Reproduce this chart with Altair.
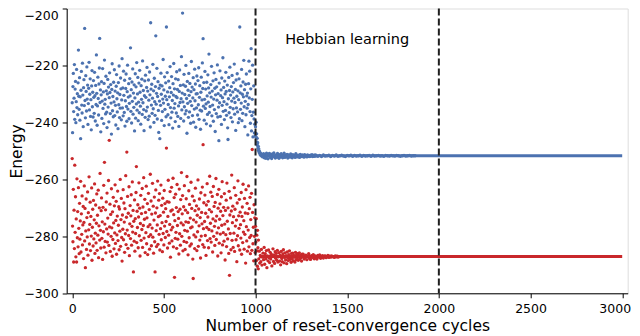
import altair as alt
import pandas as pd

# ---------------- data ----------------
# Before Hebbian learning: one value every 2 cycles, cycles 0..998
blue_noisy = [
 -233.1,-243.6,-227.4,-222.8,-236.2,-231.5,-219.7,-238.9,-228.3,-225.6,-240.1,-232.7,-221.4,-234.8,-229.9,-237.3,-226.1,-214.6,-230.8,-235.4,
 -224.3,-239.2,-231.0,-245.7,-228.7,-222.1,-233.9,-236.7,-219.2,-230.4,-241.5,-227.8,-225.0,-234.1,-207.0,-232.3,-238.4,-223.6,-229.1,-236.0,
 -220.5,-231.8,-226.9,-240.7,-233.4,-228.0,-218.9,-235.6,-230.1,-224.7,-237.9,-232.0,-242.6,-227.2,-221.8,-234.5,-229.4,-238.1,-225.3,-231.2,
 -236.8,-222.4,-230.6,-239.5,-227.0,-233.7,-216.3,-229.8,-241.0,-234.2,-224.1,-231.6,-237.4,-226.5,-220.9,-210.5,-233.0,-228.6,-243.3,-230.3,
 -225.7,-238.6,-232.5,-221.1,-235.1,-229.3,-240.4,-226.3,-218.1,-233.6,-231.9,-237.0,-223.8,-228.9,-236.4,-241.8,-230.0,-224.9,-234.6,-227.6,
 -239.8,-231.3,-222.6,-229.5,-236.9,-226.7,-233.2,-244.1,-228.4,-219.4,-235.9,-230.9,-238.0,-225.9,-232.8,-221.5,-237.6,-229.0,-234.0,-240.9,
 -227.3,-223.2,-231.7,-236.3,-229.6,-242.2,-226.0,-233.8,-220.2,-238.3,-230.2,-235.0,-224.4,-228.2,-239.1,-232.1,-217.6,-234.9,-227.9,-237.7,
 -222.0,-230.5,-236.5,-225.2,-241.3,-232.4,-228.1,-223.0,-234.4,-239.6,-229.2,-219.9,-235.3,-231.1,-226.4,-238.7,-233.3,-224.6,-230.7,-213.8,
 -236.1,-228.5,-240.2,-225.8,-232.6,-221.2,-237.1,-229.7,-234.7,-226.8,-243.0,-231.4,-222.9,-238.5,-227.5,-233.5,-219.0,-235.7,-230.0,-224.2,
 -239.4,-232.9,-226.2,-236.6,-221.7,-229.4,-234.3,-240.6,-227.1,-231.9,-224.8,-237.2,-218.4,-233.1,-228.8,-235.5,-242.9,-230.6,-225.4,-238.2,
 -223.4,-231.2,-236.0,-227.7,-220.7,-234.6,-229.0,-239.0,-225.1,-232.2,-237.8,-222.3,-230.3,-241.6,-205.0,-228.3,-233.9,-226.6,-236.8,-231.5,
 -219.6,-235.2,-228.9,-240.0,-224.5,-232.7,-237.5,-227.4,-209.6,-233.6,-229.8,-221.0,-238.8,-230.9,-225.7,-235.8,-243.5,-228.0,-232.5,-245.7,
 -226.9,-234.0,-222.7,-230.1,-239.3,-227.2,-236.2,-231.8,-217.9,-233.2,-228.6,-241.1,-224.0,-235.4,-230.8,-226.1,-238.0,-206.5,-232.0,-222.5,
 -229.3,-237.3,-233.7,-225.5,-240.8,-231.0,-227.8,-220.4,-234.8,-238.4,-229.5,-223.9,-236.4,-232.3,-242.0,-226.4,-230.4,-219.3,-235.0,-228.2,
 -233.4,-239.7,-224.7,-230.9,-236.7,-222.2,-231.3,-228.4,-237.9,-225.0,-234.2,-241.4,-229.1,-221.6,-233.0,-227.0,-238.6,-231.7,-216.9,-235.6,
 -229.7,-201.6,-232.8,-226.8,-239.5,-223.1,-234.5,-230.2,-237.0,-227.3,-220.0,-235.9,-231.6,-243.8,-225.6,-233.3,-228.7,-238.2,-222.8,-230.5,
 -236.3,-226.3,-232.6,-240.3,-229.2,-218.6,-234.1,-227.6,-237.6,-231.4,-224.3,-239.9,-228.5,-235.3,-221.3,-232.4,-226.5,-241.7,-230.0,-234.9,
 -223.7,-229.9,-237.4,-225.3,-233.8,-220.8,-238.9,-231.2,-227.1,-235.7,-242.4,-229.4,-224.1,-236.0,-232.1,-219.1,-228.1,-210.6,-234.3,-226.0,
 -239.2,-231.9,-222.1,-235.1,-228.3,-233.5,-240.5,-225.9,-230.7,-237.2,-223.3,-232.9,-227.9,-216.0,-236.5,-229.6,-234.4,-241.2,-226.7,-231.1,
 -220.3,-237.7,-229.0,-233.9,-225.4,-239.6,-231.8,-222.6,-235.5,-228.0,-243.2,-230.3,-224.9,-236.9,-227.5,-232.2,-219.8,-238.1,-229.9,-234.6,
 -246.4,-226.2,-233.1,-221.9,-237.9,-230.6,-228.6,-240.7,-224.4,-234.0,-231.3,-217.3,-236.1,-227.7,-232.7,-239.0,-225.5,-230.0,-235.8,-222.4,
 -229.1,-237.5,-233.6,-226.9,-241.9,-246.0,-231.7,-224.2,-236.6,-228.8,-220.6,-234.7,-230.4,-238.3,-227.4,-232.5,-223.5,-239.8,-229.3,-235.2,
 -226.0,-231.5,-219.5,-237.1,-233.0,-228.4,-242.8,-225.1,-234.9,-230.8,-222.9,-236.3,-228.9,-240.1,-232.0,-224.7,-238.7,-206.5,-229.6,-235.4,
 -227.2,-233.2,-221.4,-239.4,-230.1,-236.8,-225.8,-231.0,-218.2,-234.5,-228.5,-241.5,-232.6,-226.6,-237.3,-223.0,-230.7,-235.0,-229.7,-244.4,
 -233.7,-226.4,-218.5,-231.4,-222.0,-236.2,-240.3,-228.2,-214.1,-243.0,-237.6,-231.9,-219.9,-245.1,-236.4,-227.2,-238.8,-243.7,-240.6,-244.8,
]

red_noisy = [
 -252.7,-276.4,-281.9,-263.5,-289.0,-270.8,-284.3,-255.0,-278.6,-266.1,-287.2,-273.9,-289.0,-259.8,-280.5,-271.3,-283.7,-262.9,-277.2,-286.1,
 -268.4,-281.0,-274.6,-260.7,-285.5,-272.1,-279.3,-265.8,-283.0,-276.0,-269.5,-287.8,-275.1,-262.3,-281.6,-270.2,-291.0,-278.1,-266.9,-284.6,
 -273.4,-280.2,-264.4,-286.6,-271.7,-277.7,-259.1,-282.7,-275.8,-268.0,-285.0,-273.0,-279.9,-263.0,-288.4,-276.8,-270.5,-283.4,-267.4,-280.9,
 -274.2,-261.6,-286.0,-278.9,-269.0,-282.3,-275.4,-265.1,-284.9,-272.6,-279.6,-263.8,-287.5,-276.3,-270.0,-281.3,-257.9,-277.9,-284.1,-271.0,
 -266.5,-280.7,-274.9,-288.1,-269.8,-278.4,-262.1,-283.8,-254.0,-275.7,-281.8,-270.7,-285.8,-267.9,-277.4,-264.8,-282.0,-273.6,-279.2,-260.4,
 -283.2,-246.3,-276.7,-268.7,-285.3,-272.3,-280.0,-263.3,-277.0,-287.0,-271.4,-281.1,-266.3,-275.3,-284.4,-269.3,-278.8,-261.9,-282.5,-274.4,
 -267.7,-286.3,-279.5,-272.9,-264.1,-281.5,-276.1,-269.6,-284.7,-270.4,-278.2,-260.0,-283.5,-274.1,-266.7,-280.4,-288.7,-272.5,-277.5,-263.6,
 -281.2,-268.3,-275.0,-285.6,-270.3,-279.1,-258.7,-282.9,-273.3,-250.4,-277.8,-266.0,-284.2,-271.9,-279.7,-262.6,-286.8,-275.6,-269.2,-280.8,
 -272.8,-265.4,-283.1,-276.5,-260.9,-278.5,-270.9,-292.5,-274.7,-281.7,-267.2,-285.2,-273.8,-279.0,-264.6,-255.5,-282.2,-271.2,-276.9,-268.9,
 -284.0,-273.2,-261.2,-279.8,-270.1,-286.9,-275.5,-265.6,-281.4,-272.0,-277.6,-263.2,-283.9,-269.7,-276.2,-259.4,-280.6,-274.0,-267.0,-285.7,
 -271.6,-278.7,-262.4,-282.6,-273.5,-268.5,-286.4,-276.6,-264.9,-280.1,-270.6,-284.5,-275.9,-258.2,-279.4,-267.6,-283.3,-272.2,-277.1,-261.4,
 -280.3,-269.4,-285.9,-274.3,-266.2,-281.9,-292.5,-271.8,-263.7,-278.0,-283.6,-270.0,-276.0,-260.6,-282.8,-273.1,-267.3,-279.3,-265.0,-284.8,
 -272.7,-277.3,-262.0,-281.2,-269.1,-275.2,-285.4,-266.6,-279.0,-271.5,-283.0,-263.9,-276.4,-268.5,-280.4,-270.3,-274.8,-249.0,-278.3,-267.8,
 -284.1,-273.0,-260.3,-279.6,-268.0,-282.4,-275.8,-264.3,-287.3,-271.1,-277.7,-262.8,-281.6,-270.7,-276.8,-259.6,-283.7,-272.4,-266.4,-294.4,
 -274.5,-280.7,-265.2,-278.6,-269.9,-284.2,-261.8,-276.2,-281.0,-271.3,-273.7,-286.2,-263.4,-279.1,-270.5,-283.1,-267.1,-275.3,-257.6,-280.0,
 -272.1,-265.7,-285.1,-276.0,-269.6,-281.8,-262.2,-277.9,-284.6,-270.8,-274.9,-266.8,-282.1,-259.0,-278.2,-271.7,-286.5,-275.1,-264.0,-280.5,
 -268.8,-283.4,-273.6,-277.0,-261.0,-282.7,-270.2,-276.7,-265.9,-288.0,-294.8,-274.2,-279.5,-267.5,-284.3,-271.0,-263.1,-280.2,-275.0,-269.3,
 -285.0,-272.6,-278.4,-260.2,-283.5,-270.4,-276.3,-266.9,-281.3,-273.4,-287.6,-264.7,-279.9,-271.6,-275.6,-262.7,-282.9,-247.8,-277.3,-268.2,
 -283.8,-274.8,-265.5,-279.7,-271.9,-286.7,-269.0,-276.9,-261.5,-281.5,-273.2,-267.7,-284.0,-277.6,-270.6,-258.9,-280.8,-275.4,-264.5,-282.0,
 -271.4,-278.1,-266.0,-285.5,-273.9,-262.5,-280.0,-269.5,-276.5,-283.2,-268.1,-274.6,-259.7,-281.1,-272.9,-278.8,-265.3,-286.9,-270.1,-277.0,
 -263.5,-282.4,-274.0,-268.6,-279.2,-271.2,-285.8,-266.1,-276.1,-260.8,-283.0,-272.7,-278.7,-269.8,-281.7,-265.0,-275.7,-288.3,-270.9,-279.4,
 -267.3,-283.6,-261.3,-274.7,-280.9,-270.0,-277.4,-286.0,-264.2,-293.7,-272.5,-279.0,-266.5,-284.7,-271.1,-258.5,-281.4,-275.2,-269.4,-283.9,
 -273.1,-278.9,-262.9,-285.3,-270.5,-276.4,-265.6,-281.2,-274.3,-288.9,-268.3,-279.8,-260.5,-283.3,-272.8,-277.2,-267.0,-284.8,-271.5,-275.9,
 -280.6,-264.6,-286.3,-273.0,-269.7,-282.2,-261.7,-278.5,-274.5,-284.5,-266.7,-279.3,-271.8,-289.4,-263.6,-276.6,-281.6,-268.4,-285.2,-272.0,
 -277.8,-262.3,-283.7,-270.3,-280.4,-266.3,-286.1,-274.1,-279.7,-264.9,-284.9,-249.5,-271.6,-282.6,-276.8,-288.6,-268.9,-280.0,-273.5,-285.7,
]

# Transition right after learning starts (cycle, energy)
blue_trans_x = [1000,1001,1003,1004,1006,1007,1009,1010,1012,1013,1015,1016,1018,1020,1022,1024,1026,1028,1030,1033,1036,1039,1042]
blue_trans_y = [-241.5,-243.8,-239.9,-245.2,-244.0,-246.8,-245.6,-248.0,-247.1,-249.0,-248.4,-249.9,-249.3,-250.6,-250.2,-251.1,-250.8,-251.5,-251.0,-251.8,-251.3,-252.1,-251.6]
red_trans_x = [1000,1002,1004,1005,1007,1008,1010,1011,1013,1015,1016,1018]
red_trans_y = [-276.5,-282.0,-273.8,-288.5,-279.6,-285.1,-290.5,-277.9,-284.0,-291.4,-281.3,-287.9]

# Settling band, blue: every 4 cycles from 1044, then every 10 cycles from 1330
blue_band1 = [
 -251.0,-252.4,-251.3,-252.6,-250.8,-251.9,-252.8,-251.2,-250.9,-252.3,-251.6,-252.7,-251.1,-252.0,-250.7,-251.8,-252.5,-251.4,-252.2,-250.9,
 -251.7,-252.6,-251.3,-252.1,-251.0,-251.9,-252.4,-251.5,-250.8,-252.3,-251.6,-252.0,-251.2,-252.5,-251.4,-251.9,-252.2,-251.1,-251.8,-252.4,
 -251.3,-252.0,-251.6,-252.3,-251.0,-251.8,-252.1,-251.5,-251.9,-252.3,-251.2,-251.7,-252.0,-251.4,-251.9,-252.2,-251.3,-251.8,-251.6,-252.1,
 -251.4,-251.9,-251.7,-252.0,-251.5,-251.8,-251.3,-252.0,-251.6,-251.9,-251.4,-251.8,
]
blue_band2 = [
 -251.5,-251.9,-251.6,-252.0,-251.4,-251.8,-251.7,-251.5,-252.0,-251.6,-251.8,-251.4,-251.9,-251.7,-251.5,-251.8,-252.0,-251.6,-251.7,-251.5,
 -251.9,-251.6,-251.8,-251.7,-251.5,-251.9,-251.6,-251.8,-251.7,-251.6,-251.9,-251.5,-251.8,-251.7,-251.6,-251.8,-251.7,-251.9,-251.6,-251.7,
 -251.8,-251.6,-251.7,-251.8,-251.6,-251.7,-251.9,-251.7,-251.6,-251.8,-251.7,-251.6,-251.8,-251.7,-251.7,
]
# Settling band, red: every 3 cycles from 1020, then every 5 cycles from 1260
red_band1 = [
 -285.2,-289.4,-286.7,-288.9,-284.6,-290.1,-287.3,-285.9,-288.2,-283.9,-289.8,-286.1,-287.9,-285.0,-291.0,-286.9,-288.6,-284.8,-287.5,-289.2,
 -285.6,-288.0,-286.3,-290.4,-287.0,-284.4,-288.8,-286.5,-289.5,-285.4,-287.7,-286.0,-288.4,-284.9,-289.0,-287.2,-285.7,-288.7,-286.6,-290.0,
 -285.3,-287.8,-288.9,-286.2,-284.7,-289.3,-287.4,-285.8,-288.3,-286.8,-289.6,-285.5,-287.6,-288.5,-286.4,-285.1,-288.1,-287.0,-289.1,-286.0,
 -287.9,-285.9,-288.6,-286.7,-287.3,-289.0,-285.6,-288.2,-286.5,-287.8,-286.1,-288.4,-287.1,-285.8,-288.0,-286.6,-287.5,-288.7,-286.3,-287.2,
]
red_band2 = [
 -286.3,-288.0,-287.5,-286.6,-288.2,-287.0,-286.1,-287.8,-288.1,-286.8,
 -287.4,-286.4,-287.9,-286.9,-287.6,-288.0,-286.7,-287.3,-286.5,-287.7,
 -287.1,-286.8,-287.6,-287.0,-286.9,-287.5,-287.2,-286.7,-287.4,-287.0,
 -287.3,-286.9,-287.2,-287.1,-287.4,-286.9,-287.2,-287.0,-287.3,-287.1,
]
# Converged energies (dense points form a solid band)
blue_flat_x = [1040, 3000]
blue_flat_y = [-251.7, -251.7]
red_flat_x = [1020, 3000]
red_flat_y = [-287.1, -287.1]

phase_lines = [1000, 2000]
annotation = {"x": [1500], "y": [-211.2], "text": ["Hebbian learning"]}
x_ticks = [0, 500, 1000, 1500, 2000, 2500, 3000]
y_ticks = [-300, -280, -260, -240, -220, -200]

BLUE = "#4c72b0"
RED = "#c9282b"

# ---------------- build tables ----------------
rows = []
def add(xs, ys, s):
    for a, b in zip(xs, ys):
        rows.append({"cycle": a, "energy": b, "series": s})

add([2 * i for i in range(len(blue_noisy))], blue_noisy, "blue")
add([2 * i for i in range(len(red_noisy))], red_noisy, "red")
add(blue_trans_x, blue_trans_y, "blue")
add(red_trans_x, red_trans_y, "red")
add([1044 + 4 * i for i in range(len(blue_band1))], blue_band1, "blue")
add([1330 + 10 * i for i in range(len(blue_band2))], blue_band2, "blue")
add([1020 + 3 * i for i in range(len(red_band1))], red_band1, "red")
add([1260 + 5 * i for i in range(len(red_band2))], red_band2, "red")
pts = pd.DataFrame(rows)

flat = pd.DataFrame({
    "cycle": blue_flat_x + red_flat_x,
    "energy": blue_flat_y + red_flat_y,
    "series": ["blue"] * 2 + ["red"] * 2,
})

xscale = alt.Scale(domain=[-30, 3030], nice=False, zero=False)
yscale = alt.Scale(domain=[-300, -200], nice=False, zero=False)
cscale = alt.Scale(domain=["blue", "red"], range=[BLUE, RED])

W, H = 561, 284.8
FONT = "DejaVu Sans"
xaxis = alt.Axis(values=x_ticks, format="d", title="Number of reset-convergence cycles", grid=False,
                 tickSize=4.5, tickColor="black", domainColor="black", labelColor="black",
                 labelFont=FONT, labelFontSize=12.5, labelPadding=5, titleFont=FONT,
                 titleFontSize=15.5, titleFontWeight="normal", titleColor="black", titlePadding=3.5,
                 labelFlush=False,
                 labelOffset={"condition": {"test": "datum.value == 3000", "value": -7.5}, "value": 0})
yaxis = alt.Axis(values=y_ticks, format="d", title="Energy", grid=False, tickSize=4.5, tickColor="black",
                 domainColor="black", labelColor="black", labelFont=FONT, labelFontSize=12.5,
                 labelPadding=4, titleFont=FONT, titleFontSize=15.5, titleFontWeight="normal",
                 titleColor="black", titleX=-50, titleY=H / 2, titleBaseline="middle",
                 titleAlign="center", labelFlush=False,
                 labelOffset={"condition": {"test": "datum.value == -200", "value": 7}, "value": 0})

lines = alt.Chart(flat).mark_line(strokeWidth=3, clip=True).encode(
    x=alt.X("cycle:Q", scale=xscale, axis=xaxis),
    y=alt.Y("energy:Q", scale=yscale, axis=yaxis),
    color=alt.Color("series:N", scale=cscale, legend=None),
    detail="series:N",
)

points = alt.Chart(pts).mark_circle(size=11, opacity=1, clip=True).encode(
    x=alt.X("cycle:Q", scale=xscale),
    y=alt.Y("energy:Q", scale=yscale),
    color=alt.Color("series:N", scale=cscale, legend=None),
)

rules = alt.Chart(pd.DataFrame({"cycle": phase_lines})).mark_rule(
    color="#1f1f1f", strokeWidth=2, strokeDash=[7, 3]
).encode(x=alt.X("cycle:Q", scale=xscale))

label = alt.Chart(pd.DataFrame(annotation)).mark_text(
    font=FONT, fontSize=14.5, color="black", align="center", baseline="middle"
).encode(x=alt.X("x:Q", scale=xscale), y=alt.Y("y:Q", scale=yscale), text="text:N")

chart = alt.layer(lines, points, rules, label).properties(
    width=W, height=H,
    padding={"left": 58.7, "top": 0.5, "right": 4, "bottom": 44},
    autosize=alt.AutoSizeParams(type="none"),
).configure_view(stroke="black", strokeWidth=1).configure(background="white")

chart.save("out.html", embed_options={"renderer": "svg", "actions": False})
